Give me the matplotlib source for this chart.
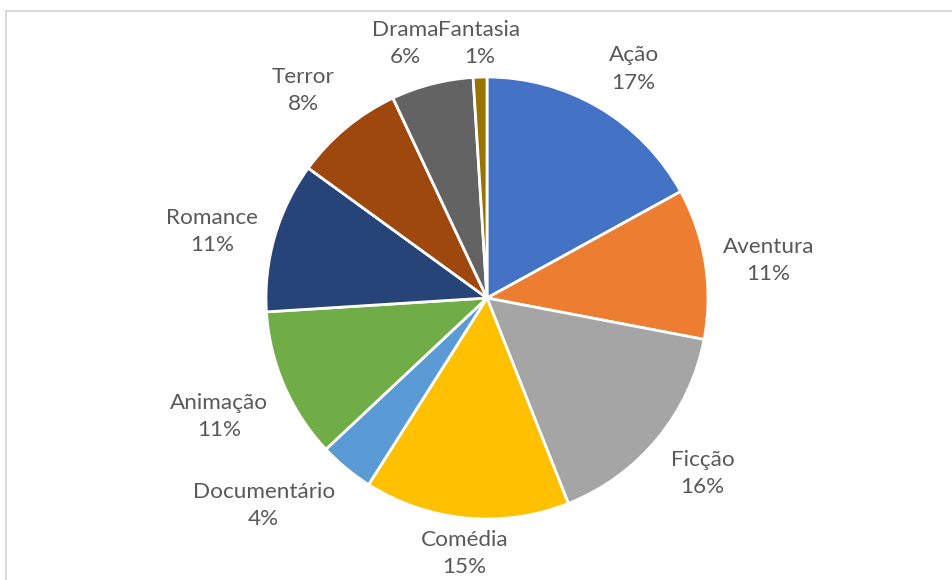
import numpy as np
import matplotlib
matplotlib.use("Agg")
import matplotlib.pyplot as plt
from matplotlib.lines import Line2D

# Genre share (%)
generos = ["Ação", "Aventura", "Ficção", "Comédia", "Documentário",
           "Animação", "Romance", "Terror", "Drama", "Fantasia"]
percentuais = [17, 11, 16, 15, 4, 11, 11, 8, 6, 1]
cores = ["#4472C4", "#ED7D31", "#A5A5A5", "#FFC000", "#5B9BD5",
         "#70AD47", "#264478", "#9E480E", "#636363", "#997300"]

W, H = 952, 580
fig = plt.figure(figsize=(W / 100, H / 100), dpi=100)
fig.patch.set_facecolor("white")

# chart-area frame (top and left edges visible)
frame = "#D9D9D9"
fig.add_artist(Line2D([6 / W, 1], [1 - 10.5 / H, 1 - 10.5 / H], color=frame, lw=1.5,
                      transform=fig.transFigure))
fig.add_artist(Line2D([6 / W, 6 / W], [0, 1 - 10.5 / H], color=frame, lw=1.5,
                      transform=fig.transFigure))

cx, cy, r = 487, 580 - 298, 221
ax = fig.add_axes([(cx - r) / W, (cy - r) / H, 2 * r / W, 2 * r / H])

wedges, _ = ax.pie(percentuais, colors=cores, startangle=90, counterclock=False,
                   radius=1, wedgeprops=dict(edgecolor="white", linewidth=2))
ax.set_xlim(-1, 1)
ax.set_ylim(-1, 1)
ax.axis("off")

fonte = dict(family=["Lato", "DejaVu Sans"], size=16.2, color="#595959")
rotulos = []
for w, nome, p in zip(wedges, generos, percentuais):
    ang = np.deg2rad((w.theta1 + w.theta2) / 2)
    dx, dy = np.cos(ang), np.sin(ang)
    ha = "left" if dx > 0.3 else ("right" if dx < -0.3 else "center")
    va = "bottom" if dy > 0.3 else ("top" if dy < -0.3 else "center")
    k = 1.08
    t = ax.text(k * dx, k * dy, f"{nome}\n{p}%", ha=ha, va=va, multialignment="center",
                linespacing=1.45, **fonte)
    rotulos.append(t)

fig.canvas.draw()
ren = fig.canvas.get_renderer()
inv = ax.transData.inverted()


def mover(t, sx, sy):
    x, y = t.get_position()
    px, py = ax.transData.transform((x, y))
    t.set_position(inv.transform((px + sx, py + sy)))


# neighbouring labels that collide: put them on one baseline, side by side
for a, b in zip(rotulos[:-1], rotulos[1:]):
    ba, bb = a.get_window_extent(ren), b.get_window_extent(ren)
    if ba.overlaps(bb):
        left, right = (a, b) if ba.x0 < bb.x0 else (b, a)
        yb = min(ba.y0, bb.y0)
        for t in (left, right):
            mover(t, 0, -(t.get_window_extent(ren).y0 - yb))
        ov = left.get_window_extent(ren).x1 - right.get_window_extent(ren).x0
        if ov > 0:
            mover(left, -ov, 0)

# keep labels inside the figure
for t in rotulos:
    e = t.get_window_extent(ren)
    if e.y0 < 3:
        mover(t, 0, 3 - e.y0)

fig.savefig("out.png", dpi=100, facecolor="white")
